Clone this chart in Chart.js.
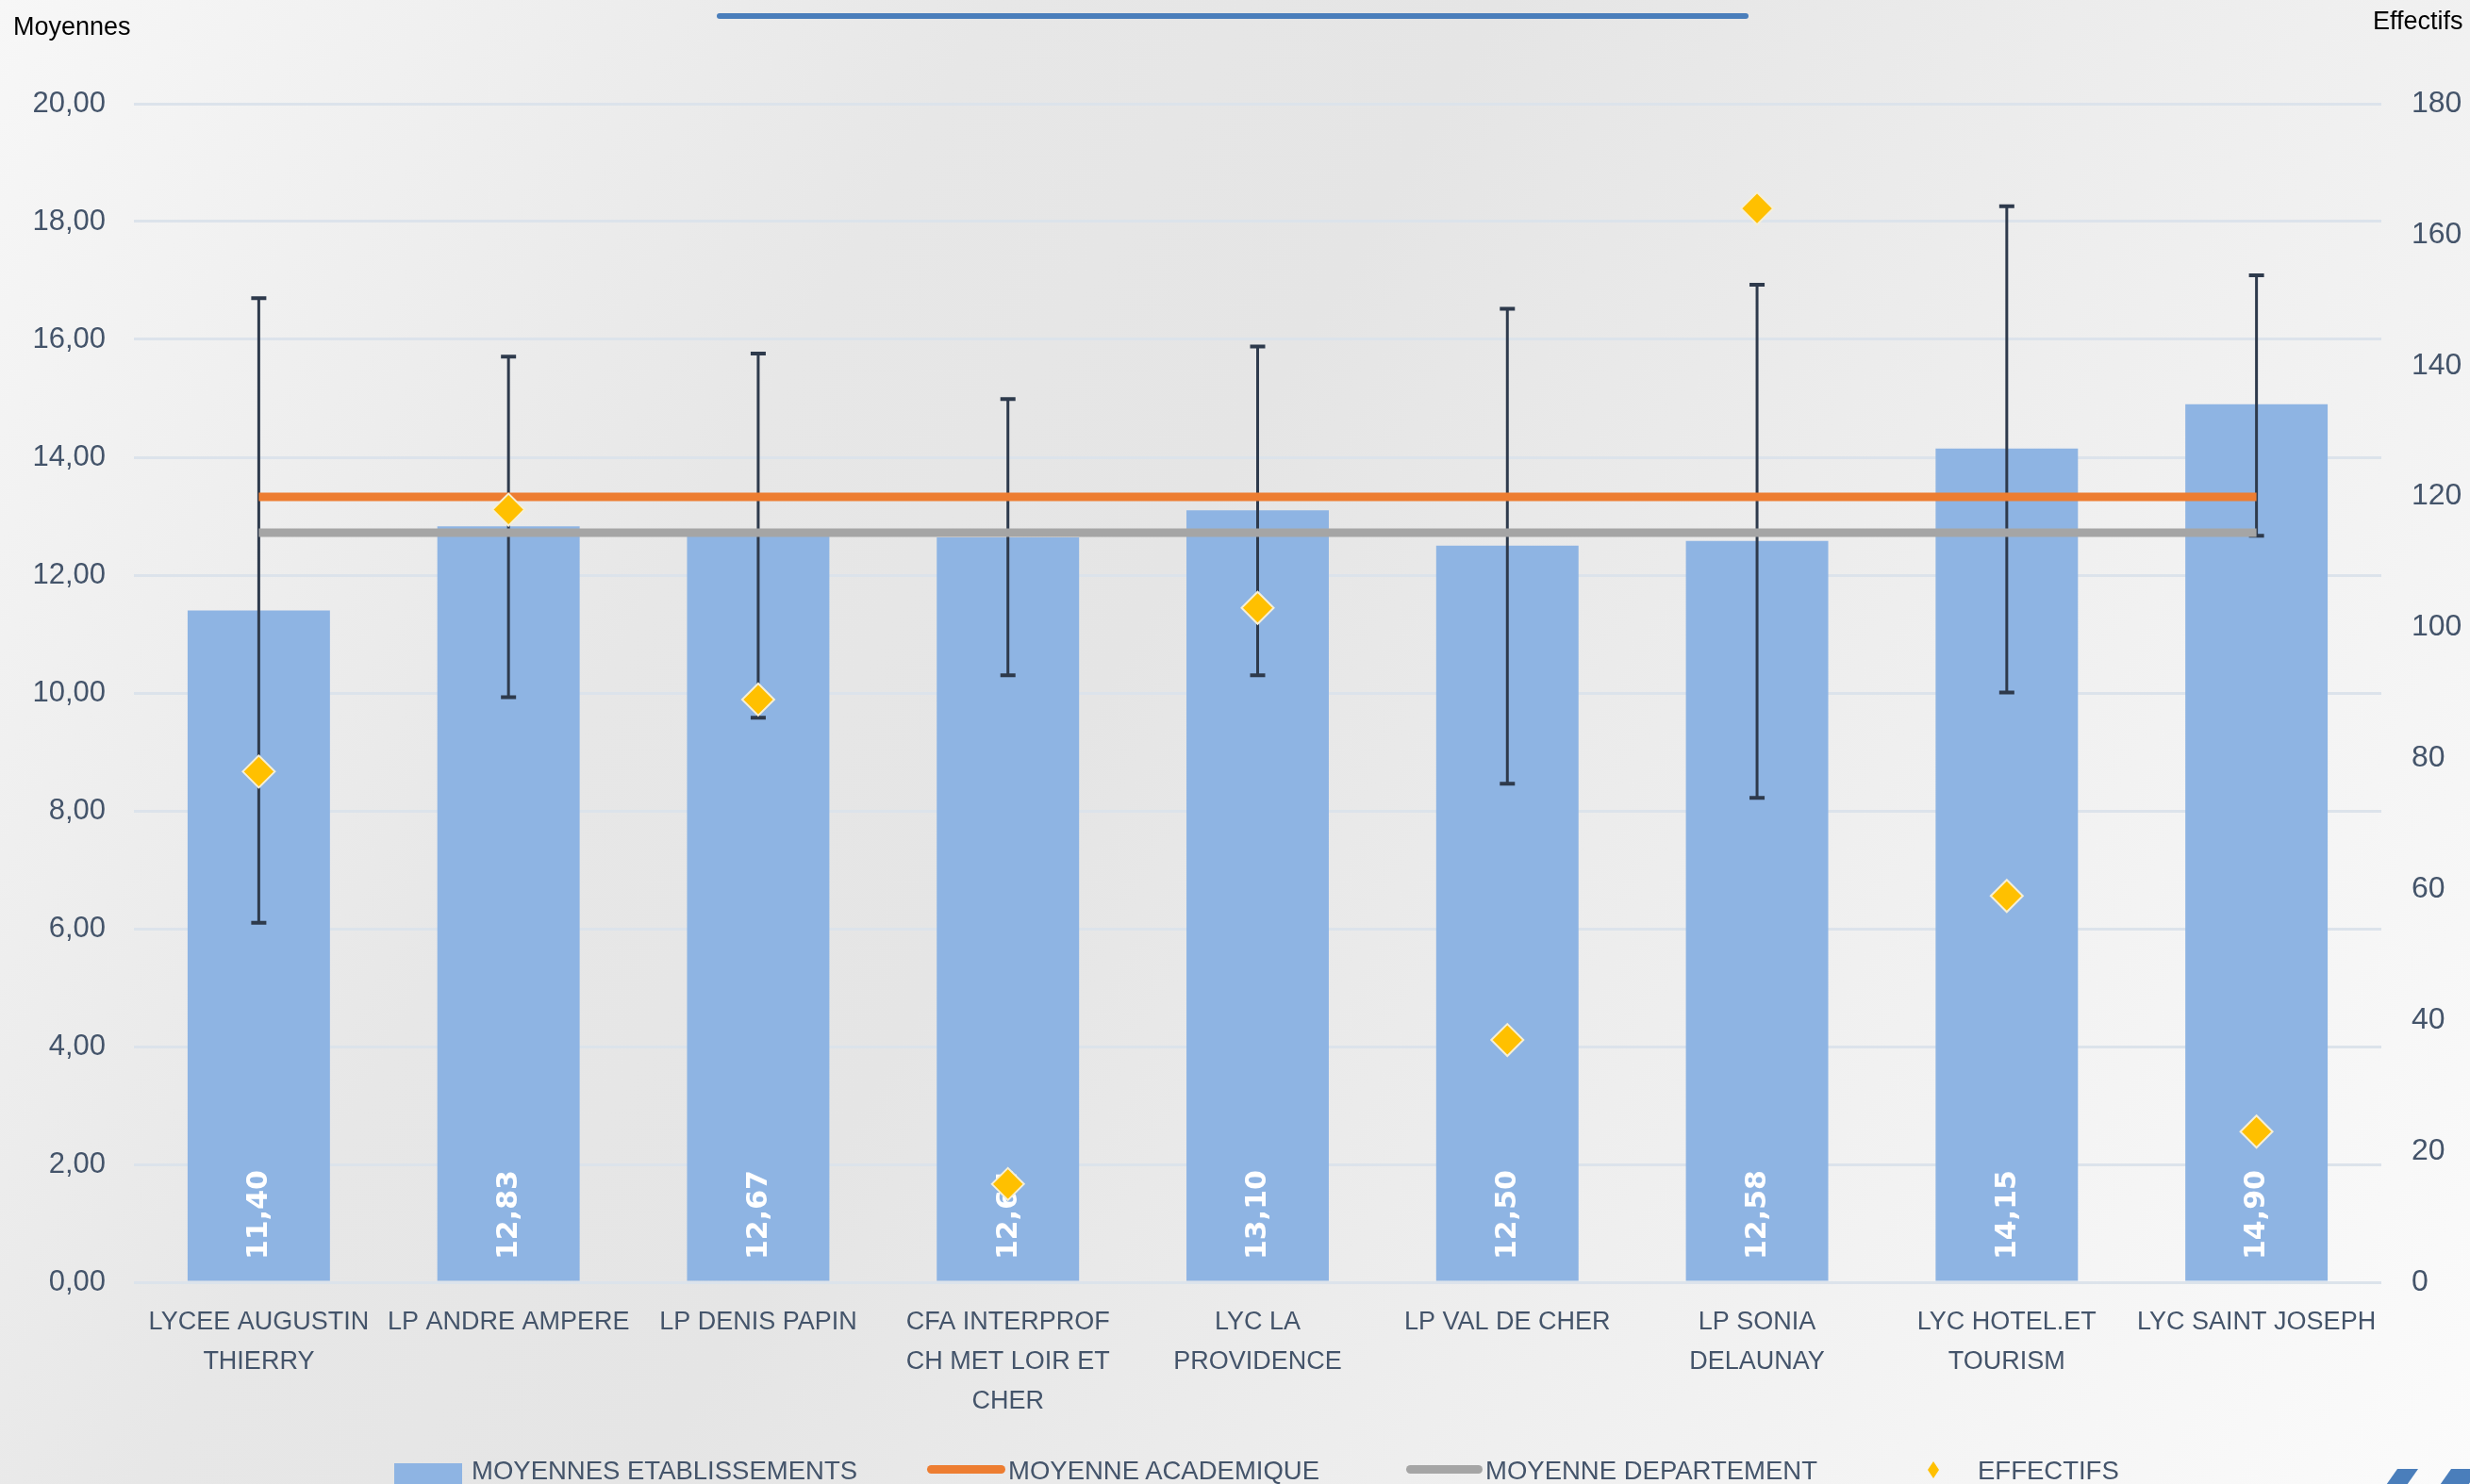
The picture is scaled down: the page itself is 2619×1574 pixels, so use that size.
<!DOCTYPE html>
<html>
<head>
<meta charset="utf-8">
<script src="https://cdn.jsdelivr.net/npm/chart.js@4"></script>
<style>
  html, body { margin: 0; padding: 0; }
  body {
    width: 2619px; height: 1574px; overflow: hidden; position: relative;
    background: linear-gradient(120deg, #f7f7f7 0%, #e7e7e7 30%, #e5e5e5 45%, #efefef 70%, #fbfbfb 100%);
    font-family: "Liberation Sans", Arial, sans-serif;
  }
  #wrap { position: absolute; left: 0; top: 0; width: 2619px; height: 1574px; }
  .axt { position: absolute; font-size: 27px; color: #000; }
  .topline { position: absolute; left: 760px; top: 14px; width: 1094px; height: 6px; border-radius: 3px; background: #4a7ebb; }
  .leg { position: absolute; top: 1543px; font-size: 27.5px; line-height: 33px; color: #44546a; white-space: nowrap; }
  .sw { position: absolute; }
  .logo { position: absolute; background: #4a7ebb; transform: skewX(-35deg); }
</style>
</head>
<body>
<div id="wrap"><canvas id="chart" width="2619" height="1574"></canvas></div>
<div class="topline"></div>
<div class="axt" style="left:14px; top:13px;">Moyennes</div>
<div class="axt" style="left:2516px; top:7px;">Effectifs</div>

<div class="sw" style="left:418px; top:1552px; width:72px; height:24px; background:#8eb4e3;"></div>
<div class="leg" style="left:500px;">MOYENNES ETABLISSEMENTS</div>
<div class="sw" style="left:983px; top:1554px; width:83px; height:9px; border-radius:5px; background:#ed7d31;"></div>
<div class="leg" style="left:1069px;">MOYENNE ACADEMIQUE</div>
<div class="sw" style="left:1491px; top:1554px; width:81px; height:9px; border-radius:5px; background:#a5a5a5;"></div>
<div class="leg" style="left:1575px;">MOYENNE DEPARTEMENT</div>
<div class="sw" style="left:2044px; top:1550px; width:12px; height:18px; background:#ffc000; clip-path:polygon(50% 0,100% 50%,50% 100%,0 50%);"></div>
<div class="leg" style="left:2097px;">EFFECTIFS</div>

<div class="logo" style="left:2535px; top:1558px; width:22px; height:20px;"></div>
<div class="logo" style="left:2592px; top:1558px; width:30px; height:20px;"></div>

<script>
// etablissements
var etablissements = [
  ["LYCEE AUGUSTIN", "THIERRY"],
  "LP ANDRE AMPERE",
  "LP DENIS PAPIN",
  ["CFA INTERPROF", "CH MET LOIR ET", "CHER"],
  ["LYC LA", "PROVIDENCE"],
  "LP VAL DE CHER",
  ["LP SONIA", "DELAUNAY"],
  ["LYC HOTEL.ET", "TOURISM"],
  "LYC SAINT JOSEPH"
];
var moyennes = [11.40, 12.83, 12.67, 12.64, 13.10, 12.50, 12.58, 14.15, 14.90];
var notesMax = [16.70, 15.71, 15.76, 14.99, 15.88, 16.52, 16.93, 18.26, 17.09];
var notesMin = [6.10, 9.93, 9.58, 10.30, 10.30, 8.46, 8.22, 10.01, 12.67];
var moyAcad = [13.33, 13.33, 13.33, 13.33, 13.33, 13.33, 13.33, 13.33, 13.33];
var moyDep = [12.72, 12.72, 12.72, 12.72, 12.72, 12.72, 12.72, 12.72, 12.72];
var effectifs = [78, 118, 89, 15, 103, 37, 164, 59, 23];

var textCol = "#44546a";
var fontFam = "'Liberation Sans', Arial, sans-serif";

function virgule(v) {
  return v.toFixed(2).replace(".", ",");
}

// error bars + values inside the bars, drawn right after the bars
var barExtras = {
  id: "barExtras",
  afterDatasetDraw: function(chart, args) {
    if (args.index !== 0) return;
    var ctx = chart.ctx;
    var y = chart.scales.y;
    var meta = chart.getDatasetMeta(0);
    ctx.save();
    // values
    ctx.fillStyle = "#ffffff";
    ctx.font = "bold 30px 'DejaVu Sans', Verdana, sans-serif";
    ctx.textAlign = "left";
    ctx.textBaseline = "middle";
    meta.data.forEach(function(bar, i) {
      ctx.save();
      ctx.translate(bar.x, y.getPixelForValue(0) - 24);
      ctx.rotate(-Math.PI / 2);
      ctx.fillText(virgule(moyennes[i]), 0, 1);
      ctx.restore();
    });
    // error bars
    ctx.strokeStyle = "#2e3a4c";
    ctx.lineWidth = 3;
    meta.data.forEach(function(bar, i) {
      var top = y.getPixelForValue(notesMax[i]);
      var bot = y.getPixelForValue(notesMin[i]);
      ctx.beginPath();
      ctx.moveTo(bar.x, top);
      ctx.lineTo(bar.x, bot);
      ctx.stroke();
      ctx.lineWidth = 4;
      ctx.beginPath();
      ctx.moveTo(bar.x - 8, top);
      ctx.lineTo(bar.x + 8, top);
      ctx.moveTo(bar.x - 8, bot);
      ctx.lineTo(bar.x + 8, bot);
      ctx.stroke();
      ctx.lineWidth = 3;
    });
    ctx.restore();
  }
};

var ctx = document.getElementById("chart").getContext("2d");
var chart = new Chart(ctx, {
  type: "bar",
  data: {
    labels: etablissements,
    datasets: [
      {
        label: "MOYENNES ETABLISSEMENTS",
        data: moyennes,
        backgroundColor: "#8eb4e3",
        barPercentage: 0.57,
        categoryPercentage: 1,
        yAxisID: "y",
        order: 4
      },
      {
        type: "line",
        label: "MOYENNE ACADEMIQUE",
        data: moyAcad,
        borderColor: "#ed7d31",
        borderWidth: 9,
        pointRadius: 0,
        yAxisID: "y",
        order: 2
      },
      {
        type: "line",
        label: "MOYENNE DEPARTEMENT",
        data: moyDep,
        borderColor: "#a5a5a5",
        borderWidth: 9,
        pointRadius: 0,
        yAxisID: "y",
        order: 3
      },
      {
        type: "line",
        label: "EFFECTIFS",
        data: effectifs,
        showLine: false,
        pointStyle: "rectRot",
        pointRadius: 17,
        backgroundColor: "#ffc000",
        borderColor: "#f6efd6",
        borderWidth: 2,
        yAxisID: "y2",
        order: 0
      }
    ]
  },
  options: {
    responsive: false,
    animation: false,
    maintainAspectRatio: false,
    layout: { padding: { top: 110, left: 0, right: 0, bottom: 0 } },
    plugins: {
      legend: { display: false },
      tooltip: { enabled: false }
    },
    scales: {
      x: {
        grid: { display: false, drawTicks: false },
        border: { display: false },
        ticks: {
          color: textCol,
          font: { family: fontFam, size: 27, lineHeight: 1.55 },
          maxRotation: 0,
          autoSkip: false,
          padding: 22
        },
        afterFit: function(s) { s.height = 214; }
      },
      y: {
        position: "left",
        min: 0,
        max: 20,
        grid: { color: "#dce3eb", lineWidth: 3, drawTicks: false },
        border: { display: false },
        ticks: {
          stepSize: 2,
          color: textCol,
          font: { family: fontFam, size: 31 },
          padding: 30,
          callback: function(v) { return virgule(v); }
        },
        afterFit: function(s) { s.width = 142; }
      },
      y2: {
        position: "right",
        min: 0,
        max: 180,
        grid: { display: false, drawTicks: false },
        border: { display: false },
        ticks: {
          stepSize: 20,
          color: textCol,
          font: { family: fontFam, size: 32 },
          padding: 32
        },
        afterFit: function(s) { s.width = 94; }
      }
    }
  },
  plugins: [barExtras]
});
</script>
</body>
</html>
